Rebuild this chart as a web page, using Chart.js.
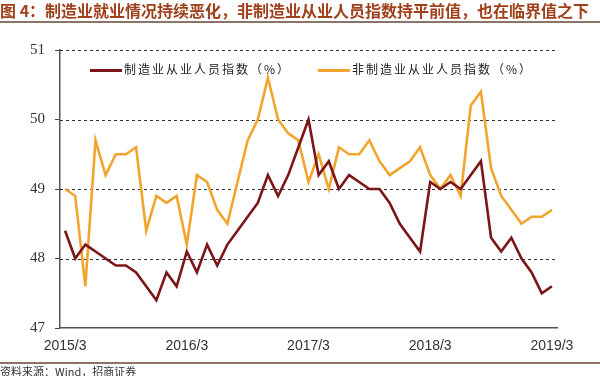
<!DOCTYPE html>
<html>
<head>
<meta charset="utf-8">
<script src="https://cdn.jsdelivr.net/npm/chart.js@4/dist/chart.umd.min.js"></script>
<style>
  body { margin: 0; background: #fff; }
  #wrap { position: relative; width: 600px; height: 376px; overflow: hidden; }
  #title {
    position: absolute; left: 0; top: 0px; width: 600px;
    font: bold 16px "Noto Sans CJK SC", sans-serif; color: #a0401b;
    white-space: nowrap; letter-spacing: 0px; line-height: 20px;
  }
  #titleLine { position: absolute; left: 0; top: 21px; width: 600px; height: 2px; background: #8a7468; }
  #source {
    position: absolute; left: 0; top: 362px; width: 600px; border-top: 2px solid #8a7468;
    font: 11px "Noto Sans CJK SC", sans-serif; color: #333; line-height: 14px;
  }
  #legend { position: absolute; top: 60px; left: 0; font: 12px "Noto Sans CJK SC", sans-serif; color: #222; }
  .item { position: absolute; white-space: nowrap; letter-spacing: 2px; }
  .swatch { display: inline-block; width: 32px; height: 3px; vertical-align: middle; margin-right: 2px; }
  canvas { position: absolute; left: 0; top: 0; }
</style>
</head>
<body>
<div id="wrap">
  <canvas id="chart" width="600" height="376"></canvas>
  <div id="title">图 4：制造业就业情况持续恶化，非制造业从业人员指数持平前值，也在临界值之下</div>
  <div id="titleLine"></div>
  <div id="legend"></div>
  <div id="source">资料来源：Wind，招商证券</div>
</div>
<script>
const months = [
  "2015/3","2015/4","2015/5","2015/6","2015/7","2015/8","2015/9","2015/10","2015/11","2015/12",
  "2016/1","2016/2","2016/3","2016/4","2016/5","2016/6","2016/7","2016/8","2016/9","2016/10","2016/11","2016/12",
  "2017/1","2017/2","2017/3","2017/4","2017/5","2017/6","2017/7","2017/8","2017/9","2017/10","2017/11","2017/12",
  "2018/1","2018/2","2018/3","2018/4","2018/5","2018/6","2018/7","2018/8","2018/9","2018/10","2018/11","2018/12",
  "2019/1","2019/2","2019/3"
];

const manufacturing = [
  48.4, 48.0, 48.2, 48.1, 48.0, 47.9, 47.9, 47.8, 47.6, 47.4,
  47.8, 47.6, 48.1, 47.8, 48.2, 47.9, 48.2, 48.4, 48.6, 48.8, 49.2, 48.9,
  49.2, 49.6, 50.0, 49.2, 49.4, 49.0, 49.2, 49.1, 49.0, 49.0, 48.8, 48.5,
  48.3, 48.1, 49.1, 49.0, 49.1, 49.0, 49.2, 49.4, 48.3, 48.1, 48.3, 48.0,
  47.8, 47.5, 47.6
];

const nonManufacturing = [
  49.0, 48.9, 47.6, 49.7, 49.2, 49.5, 49.5, 49.6, 48.4, 48.9,
  48.8, 48.9, 48.2, 49.2, 49.1, 48.7, 48.5, 49.1, 49.7, 50.0, 50.6, 50.0,
  49.8, 49.7, 49.1, 49.5, 49.0, 49.6, 49.5, 49.5, 49.7, 49.4, 49.2, 49.3,
  49.4, 49.6, 49.2, 49.0, 49.2, 48.9, 50.2, 50.4, 49.3, 48.9, 48.7, 48.5,
  48.6, 48.6, 48.7
];

const seriesNames = ["制造业从业人员指数（%）", "非制造业从业人员指数（%）"];
const seriesColors = ["#7c1518", "#f2a52e"];
const yTicks = [47, 48, 49, 50, 51];

// dashed horizontal grid lines, placed by the y scale
const dashedGrid = {
  id: "dashedGrid",
  beforeDatasetsDraw(chart) {
    const { ctx, chartArea, scales } = chart;
    ctx.save();
    ctx.strokeStyle = "#333";
    ctx.lineWidth = 1;
    ctx.setLineDash([3, 3]);
    yTicks.forEach((v) => {
      if (v === yTicks[0]) return;
      const y = Math.round(scales.y.getPixelForValue(v)) + 0.5;
      ctx.beginPath();
      ctx.moveTo(chartArea.left, y);
      ctx.lineTo(chartArea.right, y);
      ctx.stroke();
    });
    ctx.restore();
  },
};

const ctx = document.getElementById("chart");

new Chart(ctx, {
  type: "line",
  data: {
    labels: months,
    datasets: [
      {
        label: seriesNames[0],
        data: manufacturing,
        borderColor: seriesColors[0],
        borderWidth: 2.6,
        pointRadius: 0,
        tension: 0,
        fill: false,
      },
      {
        label: seriesNames[1],
        data: nonManufacturing,
        borderColor: seriesColors[1],
        borderWidth: 2.6,
        pointRadius: 0,
        tension: 0,
        fill: false,
      },
    ],
  },
  options: {
    responsive: false,
    animation: false,
    layout: { padding: { left: 0, top: 50, right: 43, bottom: 20 } },
    plugins: { legend: { display: false }, tooltip: { enabled: false } },
    scales: {
      x: {
        offset: true,
        grid: { display: false },
        border: { display: true, color: "#555", width: 1.5 },
        ticks: {
          autoSkip: false,
          maxRotation: 0,
          color: "#333",
          font: { family: "Liberation Sans", size: 14 },
          padding: 2,
          callback: function (value, index) {
            return index % 12 === 0 ? months[index] : "";
          },
        },
        afterFit: function (scale) { scale.height = 28; },
      },
      y: {
        min: yTicks[0],
        max: yTicks[yTicks.length - 1],
        grid: { drawOnChartArea: false, drawTicks: true, tickLength: 5, tickColor: "#444" },
        border: { display: true, color: "#555", width: 1.5 },
        ticks: {
          stepSize: 1,
          color: "#333",
          font: { family: "Liberation Serif", size: 15 },
          padding: 10,
        },
        afterBuildTicks: function (scale) {
          scale.ticks = yTicks.map((v) => ({ value: v }));
        },
        afterFit: function (scale) { scale.width = 60; },
      },
    },
  },
  plugins: [dashedGrid],
});

// legend built from the dataset names and colours
const legend = document.getElementById("legend");
const legendX = [90, 318];
seriesNames.forEach((name, i) => {
  const item = document.createElement("div");
  item.className = "item";
  item.style.left = legendX[i] + "px";
  item.innerHTML = '<span class="swatch" style="background:' + seriesColors[i] + '"></span>' + name;
  legend.appendChild(item);
});
</script>
</body>
</html>
